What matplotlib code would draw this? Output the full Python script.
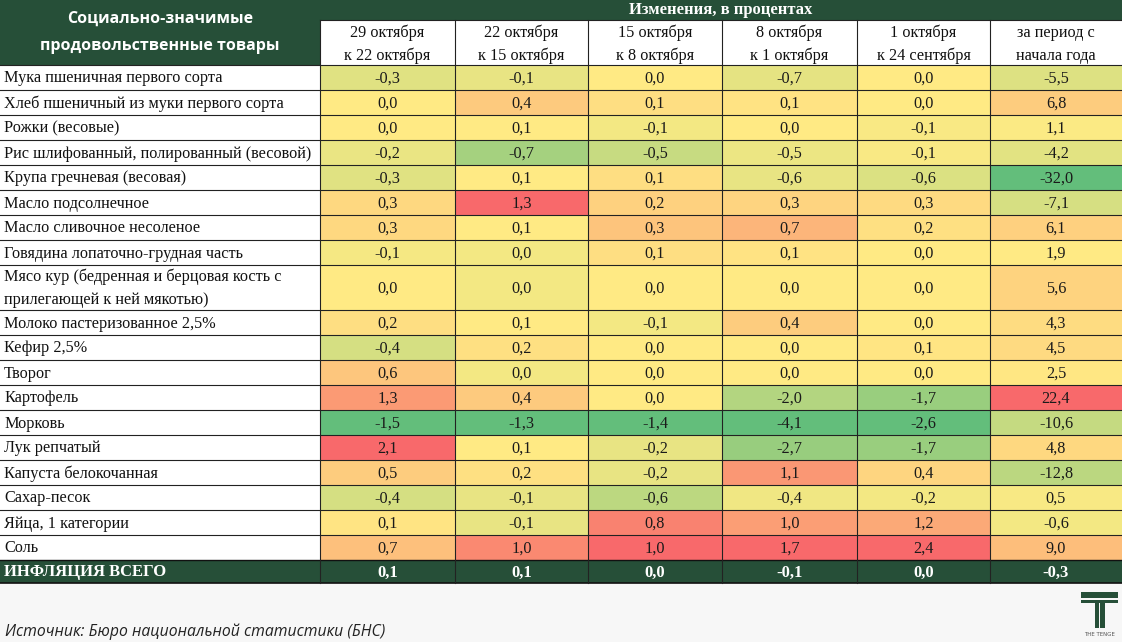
import numpy as np
import matplotlib
matplotlib.use("Agg")
import matplotlib.pyplot as plt
from matplotlib.patches import Rectangle
from matplotlib.colors import LinearSegmentedColormap, TwoSlopeNorm


# DATA
##############################################################################
products = [
    "Мука пшеничная первого сорта",
    "Хлеб пшеничный из муки первого сорта",
    "Рожки (весовые)",
    "Рис шлифованный, полированный (весовой)",
    "Крупа гречневая (весовая)",
    "Масло подсолнечное",
    "Масло сливочное несоленое",
    "Говядина лопаточно-грудная часть",
    "Мясо кур (бедренная и берцовая кость с\nприлегающей к ней мякотью)",
    "Молоко пастеризованное 2,5%",
    "Кефир 2,5%",
    "Творог",
    "Картофель",
    "Морковь",
    "Лук репчатый",
    "Капуста белокочанная",
    "Сахар-песок",
    "Яйца, 1 категории",
    "Соль",
]

periods = [
    "29 октября\nк 22 октября",
    "22 октября\nк 15 октября",
    "15 октября\nк 8 октября",
    "8 октября\nк 1 октября",
    "1 октября\nк 24 сентября",
    "за период с\nначала года",
]

oct29 = [-0.3, 0.0, 0.0, -0.2, -0.3, 0.3, 0.3, -0.1, 0.0, 0.2, -0.4, 0.6, 1.3, -1.5, 2.1, 0.5, -0.4, 0.1, 0.7]
oct22 = [-0.1, 0.4, 0.1, -0.7, 0.1, 1.3, 0.1, 0.0, 0.0, 0.1, 0.2, 0.0, 0.4, -1.3, 0.1, 0.2, -0.1, -0.1, 1.0]
oct15 = [0.0, 0.1, -0.1, -0.5, 0.1, 0.2, 0.3, 0.1, 0.0, -0.1, 0.0, 0.0, 0.0, -1.4, -0.2, -0.2, -0.6, 0.8, 1.0]
oct08 = [-0.7, 0.1, 0.0, -0.5, -0.6, 0.3, 0.7, 0.1, 0.0, 0.4, 0.0, 0.0, -2.0, -4.1, -2.7, 1.1, -0.4, 1.0, 1.7]
oct01 = [0.0, 0.0, -0.1, -0.1, -0.6, 0.3, 0.2, 0.0, 0.0, 0.0, 0.1, 0.0, -1.7, -2.6, -1.7, 0.4, -0.2, 1.2, 2.4]
ytd = [-5.5, 6.8, 1.1, -4.2, -32.0, -7.1, 6.1, 1.9, 5.6, 4.3, 4.5, 2.5, 22.4, -10.6, 4.8, -12.8, 0.5, -0.6, 9.0]

inflation = [0.1, 0.1, 0.0, -0.1, 0.0, -0.3]

columns = [oct29, oct22, oct15, oct08, oct01, ytd]


# STYLE
##############################################################################
DARK = "#264f38"
BG = "#f7f7f7"
SERIF = "Liberation Serif"
FS = 11.7
cmap = LinearSegmentedColormap.from_list("gyr", ["#63BE7B", "#FFEB84", "#F8696B"])

col_edges = [0, 320, 455, 588, 722, 857, 990, 1122]
row_heights = [25] * len(products)
row_heights[8] = 45
top_head = 20
sub_head = 65
infl_h = 23


def fmt(v):
    return ("%.1f" % v).replace(".", ",")


# DRAW
##############################################################################
fig = plt.figure(figsize=(11.22, 6.42), dpi=100)
fig.patch.set_facecolor(BG)
ax = fig.add_axes([0, 0, 1, 1])
ax.set_xlim(0, 1122)
ax.set_ylim(642, 0)
ax.axis("off")

# header
ax.add_patch(Rectangle((0, 0), 1122, top_head, color=DARK, lw=0))
ax.add_patch(Rectangle((0, 0), 320, sub_head, color=DARK, lw=0))
ax.add_patch(Rectangle((320, top_head), 802, sub_head - top_head, color="white", lw=0))
ax.text(160, 19, "Социально-значимые", ha="center", va="center", color="white",
        fontsize=11.5, fontweight="bold", family="Open Sans")
ax.text(160, 46, "продовольственные товары", ha="center", va="center", color="white",
        fontsize=11.5, fontweight="bold", family="Open Sans")
ax.text(721, 10.5, "Изменения, в процентах", ha="center", va="center", color="white",
        fontsize=12, fontweight="bold", family=SERIF)
for j, p in enumerate(periods):
    xc = (col_edges[j + 1] + col_edges[j + 2]) / 2
    ax.text(xc, 44.5, p, ha="center", va="center", fontsize=FS, family=SERIF,
            color="#111111", linespacing=1.55)
    ax.plot([col_edges[j + 1]] * 2, [top_head, sub_head], color="#222222", lw=0.8)
ax.plot([320, 1122], [top_head, top_head], color="#222222", lw=0.8)

# body
y = sub_head
for i, name in enumerate(products):
    h = row_heights[i]
    ax.add_patch(Rectangle((0, y), 320, h, color="white", lw=0))
    ax.text(4, y + h / 2 + 1, name, ha="left", va="center", fontsize=FS,
            family=SERIF, color="#111111", linespacing=1.6)
    for j, col in enumerate(columns):
        norm = TwoSlopeNorm(vmin=min(col), vcenter=float(np.median(col)), vmax=max(col))
        x0 = col_edges[j + 1]
        ax.add_patch(Rectangle((x0, y), col_edges[j + 2] - x0, h,
                               facecolor=cmap(norm(col[i])), lw=0))
        ax.text((x0 + col_edges[j + 2]) / 2, y + h / 2 + 1, fmt(col[i]), ha="center",
                va="center", fontsize=FS, family=SERIF, color="#1a1a1a")
    ax.plot([0, 1122], [y, y], color="#222222", lw=0.8)
    y += h

# inflation row
ax.add_patch(Rectangle((0, y), 1122, infl_h, color=DARK, lw=0))
ax.plot([0, 1122], [y, y], color="#111111", lw=1)
ax.plot([0, 1122], [y + infl_h, y + infl_h], color="#111111", lw=1.2)
ax.text(4, y + infl_h / 2 + 1, "ИНФЛЯЦИЯ ВСЕГО", ha="left", va="center", fontsize=12,
        fontweight="bold", family=SERIF, color="white")
for j, v in enumerate(inflation):
    xc = (col_edges[j + 1] + col_edges[j + 2]) / 2
    ax.text(xc, y + infl_h / 2 + 1, fmt(v), ha="center", va="center", fontsize=12,
            fontweight="bold", family=SERIF, color="white")

# vertical grid lines
for x in col_edges[1:-1]:
    ax.plot([x, x], [sub_head, y + infl_h], color="#222222", lw=0.8)

# source
ax.text(5, 632, "Источник: Бюро национальной статистики (БНС)", ha="left", va="center",
        fontsize=11.3, style="italic", family="Open Sans", color="#222222")

# logo
ax.add_patch(Rectangle((1081, 592), 37, 6, color=DARK, lw=0))
ax.add_patch(Rectangle((1081, 599.5), 37, 3.5, color=DARK, lw=0))
ax.add_patch(Rectangle((1095, 603), 4.5, 25, color=DARK, lw=0))
ax.add_patch(Rectangle((1100.5, 603), 4.5, 25, color=DARK, lw=0))
ax.text(1099.5, 635, "THE TENGE", ha="center", va="center", fontsize=4,
        family="DejaVu Sans", color="#555555")

fig.savefig("out.png", dpi=100, facecolor=BG)
